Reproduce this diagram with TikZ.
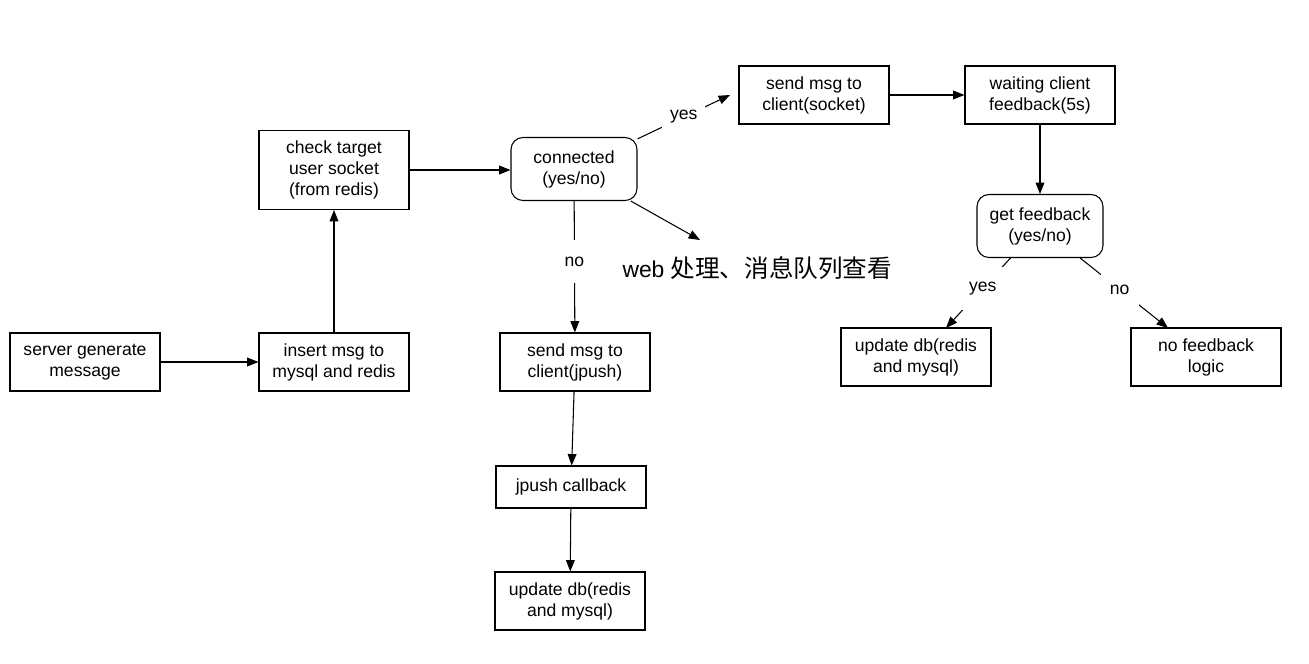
\documentclass[tikz,border=0pt]{standalone}
\usepackage{fontspec}
\setmainfont{Liberation Sans}
\newfontfamily\cjk{Noto Sans CJK SC}
\usetikzlibrary{arrows.meta}

\tikzset{
  proc/.style={draw, minimum width=3cm, minimum height=1.16cm, align=center,
    inner sep=2pt, font=\fontsize{10}{12}\selectfont},
  dec/.style={proc, rounded corners=0.24cm, minimum width=2.52cm, minimum height=1.26cm},
  lbl/.style={fill=white, minimum width=0.76cm, minimum height=0.86cm, inner xsep=4.5pt,
    inner ysep=0pt, font=\fontsize{10}{12}\selectfont},
}

\begin{document}
\begin{tikzpicture}[x=0.02cm, y=-0.02cm, line width=0.6pt,
    >={Triangle[length=6.5pt,width=5pt]}]
    \useasboundingbox (0,0) rectangle (1309,663);
    % left column
    \node[proc] (gen) at (85,362) {server generate\\message};
    \node[proc] (ins) at (334,362) {insert msg to\\mysql and redis};
    \node[proc, minimum height=1.58cm] (chk) at (334,170) {check target\\user socket\\(from redis)};
    % decision
    \node[dec] (conn) at (574,169) {connected\\(yes/no)};
    % socket branch
    \node[proc] (sock) at (814,95) {send msg to\\client(socket)};
    \node[proc] (wait) at (1040,95) {waiting client\\feedback(5s)};
    \node[dec] (gfb) at (1040,226) {get feedback\\(yes/no)};
    \node[proc] (dbr) at (916,357) {update db(redis\\and mysql)};
    \node[proc] (nofb) at (1206,357) {no feedback\\logic};
    % jpush branch
    \node[proc] (jp) at (575,362) {send msg to\\client(jpush)};
    \node[proc, minimum height=0.84cm] (cb) at (571,487) {jpush callback};
    \node[proc] (dbb) at (570,601) {update db(redis\\and mysql)};
    % web note
    \node[anchor=west, inner sep=0pt] (web) at (622,268)
      {\fontsize{13}{16}\selectfont web {\cjk\fontsize{14}{16}\selectfont 处理、消息队列查看}};
    % free arrow ends
    \coordinate (yestip) at (730,95);
    \coordinate (webtip) at (700,240);
    \coordinate (fbyes) at (946,328);
    \coordinate (fbno) at (1168,328);
    % connectors
    \draw[->] (gen) -- (ins);
    \draw[->] (ins) -- (chk);
    \draw[->] (chk) -- (chk -| conn.west);
    \draw[->] (conn) -- node[lbl] {yes} (yestip);
    \draw[->] (conn) -- (webtip);
    \draw[->] (conn) -- node[lbl, pos=0.46] {no} (jp);
    \draw[->] (sock) -- (wait);
    \draw[->] (wait) -- (gfb);
    \draw[->] (gfb) -- node[lbl, pos=0.43] {yes} (fbyes);
    \draw[->] (gfb) -- node[lbl, pos=0.45] {no} (fbno);
    \draw[->] (jp) -- (cb);
    \draw[->] (cb) -- (dbb);
  \end{tikzpicture}
\end{document}
